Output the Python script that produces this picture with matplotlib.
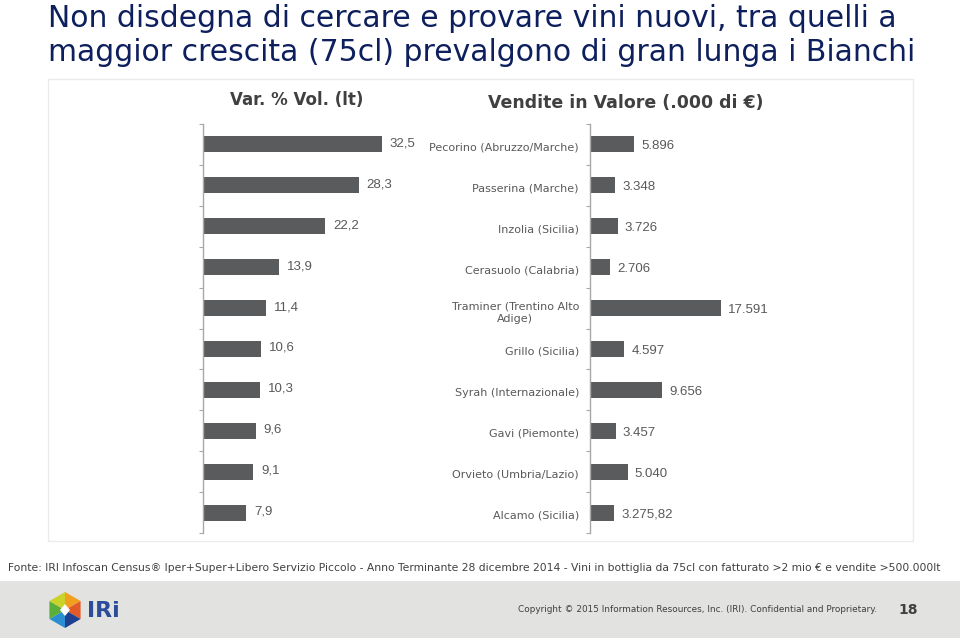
import matplotlib.pyplot as plt
import numpy as np
from matplotlib.patches import Rectangle, Polygon

# Data
wines = ['Pecorino (Abruzzo/Marche)', 'Passerina (Marche)', 'Inzolia (Sicilia)',
         'Cerasuolo (Calabria)', 'Traminer (Trentino Alto\nAdige)', 'Grillo (Sicilia)',
         'Syrah (Internazionale)', 'Gavi (Piemonte)', 'Orvieto (Umbria/Lazio)',
         'Alcamo (Sicilia)']
var_vol = [32.5, 28.3, 22.2, 13.9, 11.4, 10.6, 10.3, 9.6, 9.1, 7.9]
var_vol_labels = ['32,5', '28,3', '22,2', '13,9', '11,4', '10,6', '10,3', '9,6', '9,1', '7,9']
valore = [5896, 3348, 3726, 2706, 17591, 4597, 9656, 3457, 5040, 3275.82]
valore_labels = ['5.896', '3.348', '3.726', '2.706', '17.591', '4.597', '9.656',
                 '3.457', '5.040', '3.275,82']

bar_color = '#5a5b5d'
axis_color = '#a8a8a8'
label_color = '#595959'
title_color = '#0d1f5c'

W, H = 960, 640
fig = plt.figure(figsize=(9.6, 6.4), dpi=100)

# Background overlay in pixel coordinates
bg = fig.add_axes([0, 0, 1, 1])
bg.set_xlim(0, W)
bg.set_ylim(H, 0)
bg.axis('off')

# Title
bg.text(48, 27, 'Non disdegna di cercare e provare vini nuovi, tra quelli a',
        fontsize=21.5, color=title_color, va='baseline', ha='left', family='DejaVu Sans')
bg.text(48, 61, 'maggior crescita (75cl) prevalgono di gran lunga i Bianchi',
        fontsize=21.5, color=title_color, va='baseline', ha='left', family='DejaVu Sans')

# Chart frame
bg.add_patch(Rectangle((48, 79), 865, 462, facecolor='none', edgecolor='#ebebeb', lw=1))

# Panel headers
bg.text(297, 100, 'Var. % Vol. (lt)', fontsize=12, fontweight='bold', color='#404040',
        ha='center', va='center')
bg.text(626, 103, 'Vendite in Valore (.000 di €)', fontsize=12.5, fontweight='bold',
        color='#404040', ha='center', va='center')

# Source note
bg.text(8, 568, 'Fonte: IRI Infoscan Census® Iper+Super+Libero Servizio Piccolo - Anno Terminante '
        '28 dicembre 2014 - Vini in bottiglia da 75cl con fatturato >2 mio € e vendite >500.000lt',
        fontsize=7.75, color='#404040', ha='left', va='center')

# Footer band
bg.add_patch(Rectangle((0, 581), W, 57, facecolor='#e2e2e0', edgecolor='none'))
bg.text(518, 609, 'Copyright © 2015 Information Resources, Inc. (IRI). Confidential and Proprietary.',
        fontsize=6.4, color='#404040', ha='left', va='center')
bg.text(898, 610, '18', fontsize=10, fontweight='bold', color='#404040', ha='left', va='center')

# Logo hexagon
cx, cy, r = 65, 610, 18
ang = np.radians([90, 30, -30, -90, -150, 150])
pts = [(cx + r * np.cos(a), cy - r * np.sin(a)) for a in ang]
logo_colors = ['#f0a01e', '#e35a28', '#1f3f8f', '#2a8fd0', '#5aae3a', '#c9d32a']
for k in range(6):
    bg.add_patch(Polygon([(cx, cy), pts[k], pts[(k + 1) % 6]], closed=True,
                         facecolor=logo_colors[k], edgecolor='none'))
bg.add_patch(Polygon([(cx - 5, cy), (cx, cy - 6), (cx + 5, cy), (cx, cy + 6)],
                     closed=True, facecolor='white', edgecolor='none'))
bg.text(87, 611, 'IRi', fontsize=16, fontweight='bold', color='#2b4c9b', ha='left', va='center')

# Bar panels
top_px, bot_px = 124, 533
ax_bottom = (H - bot_px) / H
ax_height = (bot_px - top_px) / H

ypos = np.arange(len(wines))
bounds = np.arange(-0.5, len(wines), 1)


def style_axis(ax):
    for s in ['top', 'right', 'bottom']:
        ax.spines[s].set_visible(False)
    ax.spines['left'].set_color(axis_color)
    ax.spines['left'].set_linewidth(1)
    ax.set_xticks([])
    ax.set_yticks(bounds)
    ax.set_yticklabels([])
    ax.tick_params(axis='y', which='major', length=3, color=axis_color, direction='out')
    ax.set_ylim(len(wines) - 0.5, -0.5)
    ax.patch.set_alpha(0)


ax1 = fig.add_axes([203 / W, ax_bottom, 230 / W, ax_height])
style_axis(ax1)
ax1.set_xlim(0, 230 / 5.5)
ax1.barh(ypos, var_vol, height=0.39, color=bar_color)
for i, (v, lab) in enumerate(zip(var_vol, var_vol_labels)):
    ax1.annotate(lab, (v, i), xytext=(8, 1), textcoords='offset pixels',
                 fontsize=9.5, color=label_color, ha='left', va='center',
                 family='Liberation Sans')

ax2 = fig.add_axes([590 / W, ax_bottom, 310 / W, ax_height])
style_axis(ax2)
ax2.set_xlim(0, 310 / 0.00747)
ax2.barh(ypos, valore, height=0.39, color=bar_color)
for i, (v, lab) in enumerate(zip(valore, valore_labels)):
    ax2.annotate(lab, (v, i), xytext=(7, -2), textcoords='offset pixels',
                 fontsize=9.5, color=label_color, ha='left', va='center',
                 family='Liberation Sans')

# Category labels between the panels
ax2.set_yticks(ypos + 0.05, minor=True)
ax2.set_yticklabels(wines, minor=True)
ax2.tick_params(axis='y', which='minor', length=0, pad=8, labelsize=8.0,
                labelcolor=label_color)
for t in ax2.get_yticklabels(minor=True):
    t.set_multialignment('center')
    t.set_linespacing(1.35)

fig.savefig('out.png', dpi=100)
